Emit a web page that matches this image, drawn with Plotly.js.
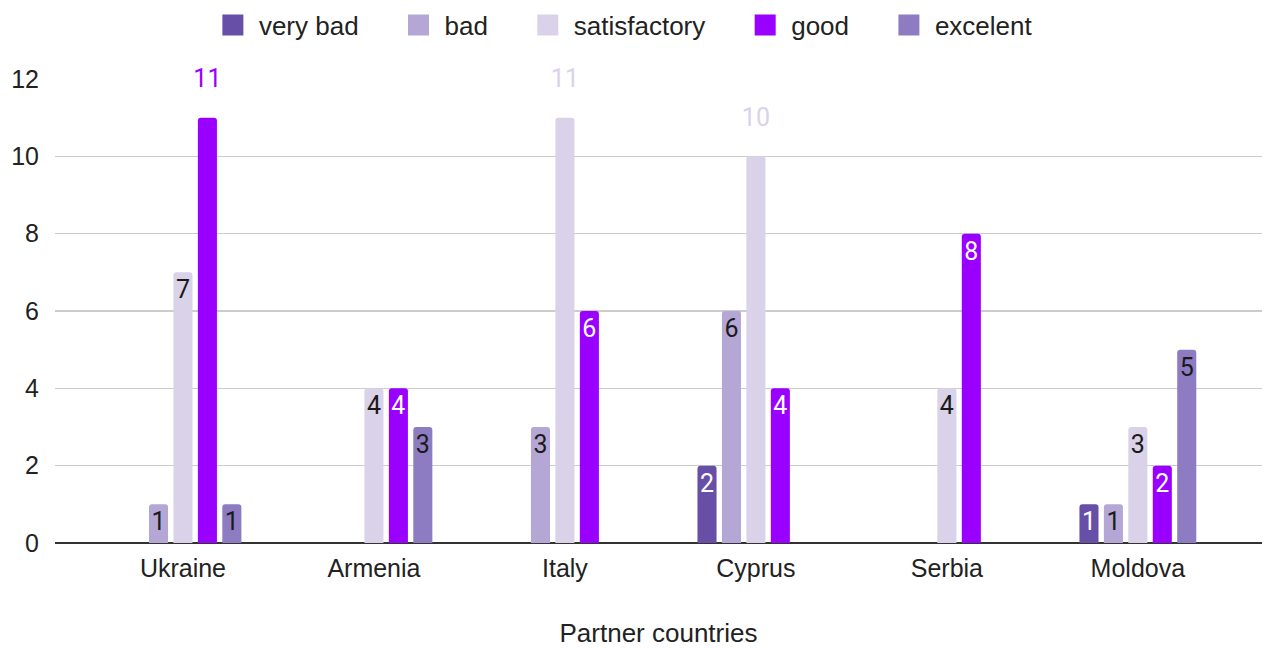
<!DOCTYPE html>
<html>
<head>
<meta charset="utf-8">
<script src="https://cdn.plot.ly/plotly-3.0.1.min.js"></script>
<style>html,body{margin:0;padding:0;background:#fff;}#chart{width:1265px;height:648px;}</style>
</head>
<body>
<div id="chart"></div>
<script>
const countries = ["Ukraine", "Armenia", "Italy", "Cyprus", "Serbia", "Moldova"];
const seriesNames = ["very bad", "bad", "satisfactory", "good", "excelent"];
const veryBad = [0, 0, 0, 2, 0, 1];
const bad = [1, 0, 3, 6, 0, 1];
const satisfactory = [7, 4, 11, 10, 4, 3];
const good = [11, 4, 6, 4, 8, 2];
const excelent = [1, 3, 0, 0, 0, 5];
const yTicks = [0, 2, 4, 6, 8, 10, 12];

const colors = ["#674ea7", "#b4a7d6", "#d9d2e9", "#9900ff", "#8e7cc3"];
const insideText = ["#ffffff", "#1a1a1a", "#1a1a1a", "#ffffff", "#1a1a1a"];
const allValues = [veryBad, bad, satisfactory, good, excelent];
const outsideThreshold = 10; // values drawn above their bar

const barTraces = allValues.map((vals, i) => {
  const outside = vals.map(v => v >= outsideThreshold);
  return {
    type: "bar",
    name: seriesNames[i],
    showlegend: false,
    x: countries,
    y: vals,
    marker: {color: colors[i]},
    text: vals.map((v, k) => v === 0 ? "" :
      (outside[k] ? "<span style='font-size:25px'>" + v + "</span><br> " : String(v))),
    textposition: vals.map((v, k) => outside[k] ? "outside" : "inside"),
    insidetextanchor: "end",
    constraintext: "none",
    textangle: 0,
    cliponaxis: false,
    textfont: {family: "Roboto, Arial, sans-serif", size: 25, color: insideText[i]},
    insidetextfont: {family: "Roboto, Arial, sans-serif", size: 25, color: insideText[i]},
    outsidetextfont: {family: "Roboto, Arial, sans-serif", size: 18, color: colors[i]},
    hoverinfo: "x+y+name"
  };
});

// legend-only entries (larger square swatches)
const legendTraces = seriesNames.map((n, i) => ({
  type: "scatter",
  mode: "markers",
  name: n + (i < seriesNames.length - 1 ? "\u00a0\u00a0\u00a0\u00a0" : ""),
  x: [null],
  y: [null],
  marker: {symbol: "square", size: 16, color: colors[i], line: {color: colors[i], width: 8}},
  showlegend: true,
  hoverinfo: "skip"
}));

const layout = {
  width: 1265,
  height: 648,
  margin: {l: 55, r: 3, t: 79, b: 105, autoexpand: false},
  paper_bgcolor: "#ffffff",
  plot_bgcolor: "#ffffff",
  font: {family: "Liberation Sans, Arial, sans-serif", size: 25, color: "#222222"},
  barmode: "group",
  bargap: 0.36,
  bargroupgap: 0.22,
  barcornerradius: 3,
  showlegend: true,
  legend: {
    orientation: "h",
    xref: "container",
    x: 0.492, xanchor: "center",
    y: 1.116, yanchor: "middle",
    font: {size: 26, color: "#222222"},
    itemwidth: 42,
    traceorder: "normal"
  },
  xaxis: {
    type: "category",
    range: [-0.67, 5.65],
    showgrid: false,
    showline: false,
    zeroline: false,
    ticks: "",
    ticklabelstandoff: 8,
    tickfont: {size: 25, color: "#222222"},
    title: {text: "Partner countries", font: {size: 26, color: "#222222"}, standoff: 43}
  },
  yaxis: {
    range: [0, 12],
    tickvals: yTicks,
    ticktext: yTicks.map(String),
    showgrid: true,
    gridcolor: "#cccccc",
    gridwidth: 1.5,
    zeroline: true,
    zerolinecolor: "#333333",
    zerolinewidth: 2,
    ticks: "",
    ticklabelstandoff: 15,
    tickfont: {size: 25, color: "#222222"}
  }
};

Plotly.newPlot("chart", barTraces.concat(legendTraces), layout, {displayModeBar: false, staticPlot: true});
</script>
</body>
</html>
